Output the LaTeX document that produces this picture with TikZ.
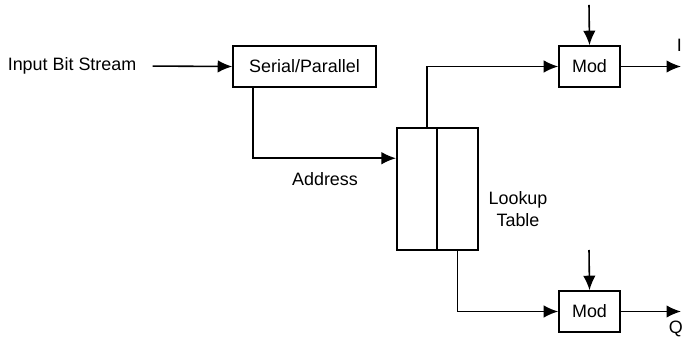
\documentclass[tikz,border=0pt]{standalone}
\usepackage{fontspec}
\setmainfont{Liberation Sans}
\usetikzlibrary{positioning,calc,arrows.meta}
\tikzset{
	block/.style = {rectangle, draw, inner sep=0pt, minimum height=0.82cm},
	half/.style = {rectangle, draw, inner sep=0pt, minimum width=0.81cm, minimum height=2.44cm},
	lbl/.style = {inner sep=0pt, align=center, font=\fontsize{10.2}{12.5}\selectfont},
}
\begin{document}
\begin{tikzpicture}[x=0.02cm, y=-0.02cm, line width=0.9pt, -{Latex[length=0.29cm,width=0.25cm]}]
	\useasboundingbox (0,0) rectangle (682,340);
	% blocks
	\node (src) [lbl, anchor=west] at (7,66) {Input Bit Stream};
	\node (sp) [block, lbl, minimum width=2.86cm, minimum height=0.82cm] at (304.5,66.5) {Serial/Parallel};
	\node (lutL) [half] at (417,189) {};
	\node (lutR) [half] at (457.5,189) {};
	\node (modI) [block, lbl, minimum width=1.22cm, minimum height=0.82cm] at (589.5,66.5) {Mod};
	\node (modQ) [block, lbl, minimum width=1.22cm, minimum height=0.82cm] at (589.5,311.5) {Mod};
	% labels
	\node (addr) [lbl] at (325,179) {Address};
	\node (lut) [lbl] at (518,209) {Lookup\\Table};
	\node (outIlbl) [lbl, anchor=west] at (676,45) {I};
	\node (outQlbl) [lbl, anchor=west] at (668,329) {Q};
	% free ends
	\coordinate (inI) at (589,5);
	\coordinate (inQ) at (589,250);
	\coordinate (outI) at (681,66.5);
	\coordinate (outQ) at (681,311.5);
	% connectors
	\draw[shorten <=0.31cm] (src.east) -- (sp.west);
	\draw ($(sp.south west)+(21,0)$) |- ($(lutL.north west)+(0,31)$);
	\draw ($(lutL.north)+(10,0)$) |- (modI.west);
	\draw (lutR.south) |- (modQ.west);
	\draw (inI) -- (modI.north);
	\draw (inQ) -- (modQ.north);
	\draw (modI.east) -- (outI);
	\draw (modQ.east) -- (outQ);
\end{tikzpicture}
\end{document}
